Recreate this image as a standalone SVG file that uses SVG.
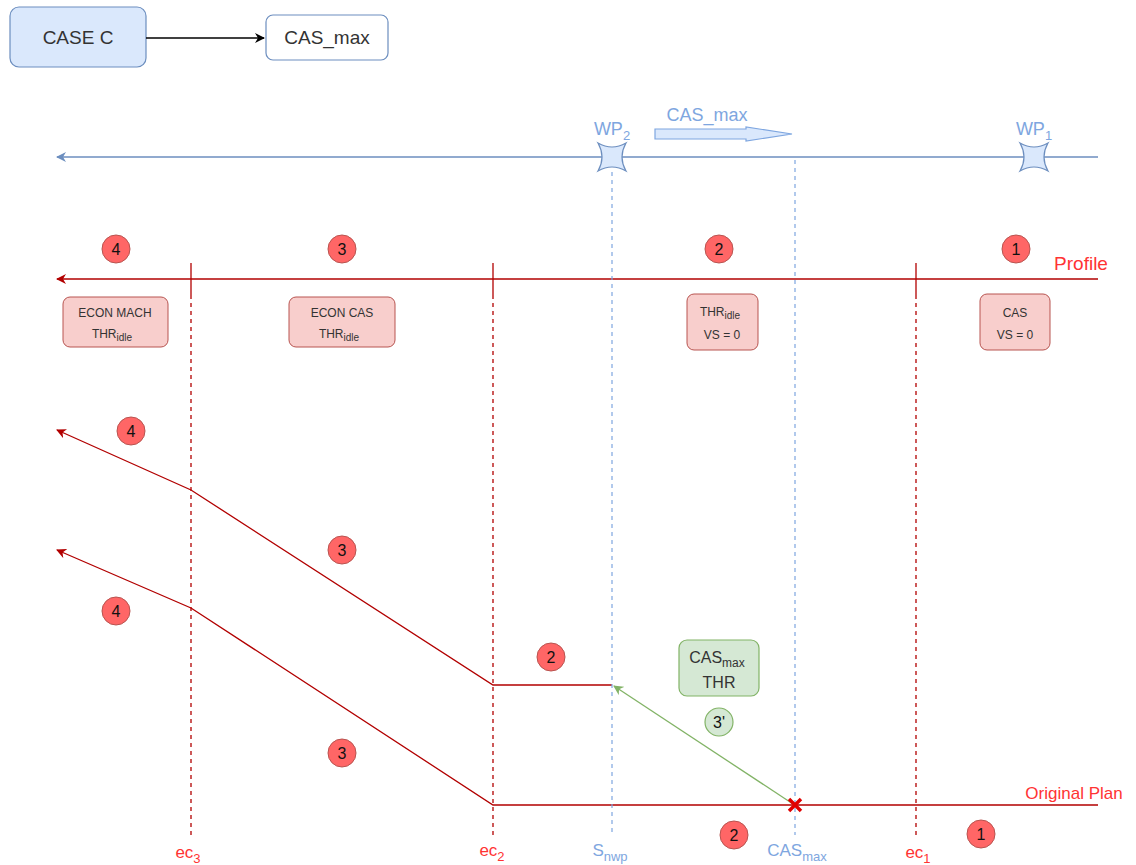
<svg xmlns="http://www.w3.org/2000/svg" width="1136" height="865" viewBox="0 0 1136 865">
<style>
text{font-family:"Liberation Sans",Arial,sans-serif;text-anchor:middle}
.num{fill:#ff6666;stroke:#b85450;stroke-width:1}
.numt{font-size:16px;fill:#111}
.pink{fill:#f8cecc;stroke:#b85450;stroke-width:1}
.pt{font-size:12px;fill:#333}
.red{stroke:#b20000;stroke-width:1.3;fill:none}
.rdash{stroke:#b20000;stroke-width:1.3;stroke-dasharray:4 4;fill:none}
.bdash{stroke:#7ea6e0;stroke-width:1.2;stroke-dasharray:4 4;fill:none}
.rlab{fill:#ff3333}
.blab{fill:#7ea6e0}
</style>
<defs>
<marker id="ah-k" viewBox="0 0 10 10" refX="9" refY="5" markerWidth="10" markerHeight="10" markerUnits="userSpaceOnUse" orient="auto"><path d="M0,0 L10,5 L0,10 L3,5 Z" fill="#000"/></marker>
<marker id="ah-r" viewBox="0 0 10 10" refX="9" refY="5" markerWidth="10" markerHeight="10" markerUnits="userSpaceOnUse" orient="auto"><path d="M0,0 L10,5 L0,10 L3,5 Z" fill="#b20000"/></marker>
<marker id="ah-b" viewBox="0 0 10 10" refX="9" refY="5" markerWidth="10" markerHeight="10" markerUnits="userSpaceOnUse" orient="auto"><path d="M0,0 L10,5 L0,10 L3,5 Z" fill="#6c8ebf"/></marker>
<marker id="ah-g" viewBox="0 0 10 10" refX="9" refY="5" markerWidth="10" markerHeight="10" markerUnits="userSpaceOnUse" orient="auto"><path d="M0,0 L10,5 L0,10 L3,5 Z" fill="#82b366"/></marker>
</defs>
<rect width="1136" height="865" fill="#fff"/>

<g id="case-c"><rect x="10" y="7" width="136" height="60" rx="9" fill="#dae8fc" stroke="#6c8ebf" stroke-width="1.2"/><text x="78" y="44" font-size="19" fill="#333">CASE C</text></g>
<g id="cas-max-box"><rect x="266" y="15" width="122" height="45" rx="7" fill="#fff" stroke="#6c8ebf" stroke-width="1.2"/><text x="327" y="44" font-size="19" fill="#333">CAS_max</text></g>

<g id="connectors">
<line x1="146" y1="38" x2="264" y2="38" stroke="#000" stroke-width="1.3" marker-end="url(#ah-k)"/>
<line x1="1098" y1="157" x2="57" y2="157" stroke="#6c8ebf" stroke-width="1.5" marker-end="url(#ah-b)"/>
<line x1="1098" y1="279" x2="57" y2="279" class="red" marker-end="url(#ah-r)"/>
<polyline points="612,685 493,685 191,490 57,430" class="red" marker-end="url(#ah-r)"/>
<polyline points="1098,805 493,805 191,608 57,550" class="red" marker-end="url(#ah-r)"/>
<line x1="793" y1="804" x2="614" y2="686" stroke="#82b366" stroke-width="1.3" marker-end="url(#ah-g)"/>
<line x1="191" y1="263" x2="191" y2="295" class="red"/>
<line x1="493" y1="263" x2="493" y2="295" class="red"/>
<line x1="916" y1="263" x2="916" y2="295" class="red"/>
<line x1="191" y1="295" x2="191" y2="835" class="rdash"/>
<line x1="493" y1="295" x2="493" y2="835" class="rdash"/>
<line x1="916" y1="295" x2="916" y2="835" class="rdash"/>
<line x1="612" y1="172" x2="612" y2="835" class="bdash"/>
<line x1="795" y1="160" x2="795" y2="835" class="bdash"/>
</g>

<g id="wp2"><path d="M598,143 Q612,151 626,143 Q618,157 626,171 Q612,163 598,171 Q606,157 598,143 Z" fill="#dae8fc" stroke="#6c8ebf" stroke-width="1.2"/><text x="612" y="135" class="blab" font-size="18">WP<tspan font-size="13" dy="5">2</tspan></text></g>
<g id="wp1"><path d="M1020,143 Q1034,151 1048,143 Q1040,157 1048,171 Q1034,163 1020,171 Q1028,157 1020,143 Z" fill="#dae8fc" stroke="#6c8ebf" stroke-width="1.2"/><text x="1034" y="135" class="blab" font-size="18">WP<tspan font-size="13" dy="5">1</tspan></text></g>

<g id="cas-max-arrow"><path d="M655,129 L746,129 L746,127 L792,134 L746,141 L746,139 L655,139 Z" fill="#dae8fc" stroke="#7ea6e0" stroke-width="1.2"/><text x="707" y="121" class="blab" font-size="18">CAS_max</text></g>

<text x="1081" y="270" class="rlab" font-size="19">Profile</text>
<text x="1074" y="799" class="rlab" font-size="17">Original Plan</text>

<g id="n-p4"><circle cx="116" cy="249" r="14" class="num"/><text x="116" y="255" class="numt">4</text></g>
<g id="n-p3"><circle cx="342" cy="249" r="14" class="num"/><text x="342" y="255" class="numt">3</text></g>
<g id="n-p2"><circle cx="719" cy="249" r="14" class="num"/><text x="719" y="255" class="numt">2</text></g>
<g id="n-p1"><circle cx="1016" cy="249" r="14" class="num"/><text x="1016" y="255" class="numt">1</text></g>

<g id="box-econ-mach"><rect x="63" y="297" width="105" height="50" rx="7" class="pink"/><text x="115" y="317" class="pt">ECON MACH</text><text x="112" y="338" class="pt">THR<tspan font-size="10" dy="3">idle</tspan></text></g>
<g id="box-econ-cas"><rect x="289" y="297" width="106" height="50" rx="7" class="pink"/><text x="342" y="317" class="pt">ECON CAS</text><text x="339" y="338" class="pt">THR<tspan font-size="10" dy="3">idle</tspan></text></g>
<g id="box-thr-idle"><rect x="687" y="294" width="71" height="56" rx="7" class="pink"/><text x="720" y="316" class="pt">THR<tspan font-size="10" dy="3">idle</tspan></text><text x="722" y="339" class="pt">VS = 0</text></g>
<g id="box-cas"><rect x="980" y="294" width="70" height="56" rx="7" class="pink"/><text x="1015" y="317" class="pt">CAS</text><text x="1015" y="339" class="pt">VS = 0</text></g>

<g id="n-a4"><circle cx="131" cy="431" r="14" class="num"/><text x="131" y="437" class="numt">4</text></g>
<g id="n-a3"><circle cx="342" cy="550" r="14" class="num"/><text x="342" y="556" class="numt">3</text></g>
<g id="n-b4"><circle cx="116" cy="611" r="14" class="num"/><text x="116" y="617" class="numt">4</text></g>
<g id="n-b3"><circle cx="342" cy="753" r="14" class="num"/><text x="342" y="759" class="numt">3</text></g>
<g id="n-a2"><circle cx="551" cy="657" r="14" class="num"/><text x="551" y="663" class="numt">2</text></g>
<g id="n-b2"><circle cx="734" cy="835" r="14" class="num"/><text x="734" y="841" class="numt">2</text></g>
<g id="n-b1"><circle cx="981" cy="834" r="14" class="num"/><text x="981" y="840" class="numt">1</text></g>

<g id="box-casmax-thr"><rect x="679" y="640" width="80" height="56" rx="8" fill="#d5e8d4" stroke="#82b366" stroke-width="1.2"/><text x="717" y="663" font-size="16" fill="#333">CAS<tspan font-size="12" dy="4">max</tspan></text><text x="719" y="688" font-size="16" fill="#333">THR</text></g>
<g id="n-3p"><circle cx="719" cy="722" r="14" fill="#d5e8d4" stroke="#82b366" stroke-width="1.2"/><text x="719" y="728" class="numt">3'</text></g>

<g id="x-mark"><path d="M789,799 L801,811 M801,799 L789,811" stroke="#e00000" stroke-width="3.5"/></g>

<text x="188" y="858" class="rlab" font-size="17">ec<tspan font-size="13" dy="5">3</tspan></text>
<text x="492" y="856" class="rlab" font-size="17">ec<tspan font-size="13" dy="5">2</tspan></text>
<text x="610" y="856" class="blab" font-size="17">S<tspan font-size="13" dy="5">nwp</tspan></text>
<text x="797" y="856" class="blab" font-size="17">CAS<tspan font-size="13" dy="5">max</tspan></text>
<text x="918" y="858" class="rlab" font-size="17">ec<tspan font-size="13" dy="5">1</tspan></text>
</svg>
